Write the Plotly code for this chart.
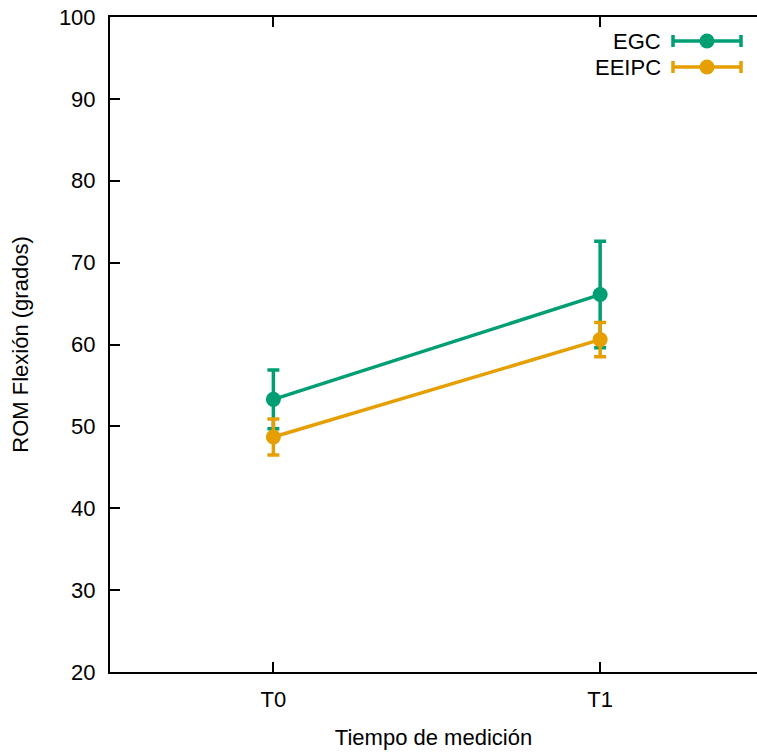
import plotly.graph_objects as go

categories = ["T0", "T1"]
egc_mean = [53.3, 66.1]
egc_err = [3.6, 6.5]
eeipc_mean = [48.7, 60.6]
eeipc_err = [2.2, 2.1]
series_names = ["EGC", "EEIPC"]
colors = ["#009e73", "#e69f00"]
y_ticks = [20, 30, 40, 50, 60, 70, 80, 90, 100]

FONT = "Liberation Sans"
FS = 22
W, H = 757, 754
L, R, T, B = 110, 0, 17, 82

fig = go.Figure()
xs = list(range(len(categories)))
for name, mean, err, col in [(series_names[0], egc_mean, egc_err, colors[0]),
                             (series_names[1], eeipc_mean, eeipc_err, colors[1])]:
    fig.add_trace(go.Scatter(
        x=xs, y=mean, mode="lines+markers", name=name,
        line=dict(color=col, width=3.5),
        marker=dict(color=col, size=15),
        error_y=dict(type="data", array=err, visible=True, color=col, thickness=3.5, width=6),
        showlegend=False, hoverinfo="skip"))

# manual gnuplot-style legend (text left of sample) on hidden pixel axes
pw = W - L - R
ph = H - T - B
leg_y = [41, 67]
for i, (name, col) in enumerate(zip(series_names, colors)):
    yy = H - B - leg_y[i]
    fig.add_trace(go.Scatter(
        x=[707 - L], y=[yy], xaxis="x2", yaxis="y2", mode="markers",
        marker=dict(color=col, size=15),
        error_x=dict(type="constant", value=34, visible=True, color=col, thickness=3.5, width=6),
        showlegend=False, hoverinfo="skip"))
    fig.add_annotation(x=663 - L, y=yy, xref="x2", yref="y2", text=name, showarrow=False,
                       xanchor="right", yanchor="middle", font=dict(family=FONT, size=FS, color="black"))

fig.update_layout(
    width=W, height=H, margin=dict(l=L, r=R, t=T, b=B),
    paper_bgcolor="white", plot_bgcolor="white",
    font=dict(family=FONT, size=FS, color="black"),
    xaxis=dict(range=[-0.5, 1.48], tickvals=xs, ticktext=categories,
               tickfont=dict(family=FONT, size=FS, color="black"), ticklabelstandoff=7,
               showgrid=False, zeroline=False, showline=True, linecolor="black", linewidth=2,
               mirror="ticks", ticks="inside", ticklen=10, tickwidth=2, tickcolor="black",
               title=dict(text="Tiempo de medición", font=dict(family=FONT, size=FS, color="black"), standoff=18)),
    yaxis=dict(range=[20, 100], tickvals=y_ticks,
               tickfont=dict(family=FONT, size=FS, color="black"), ticklabelstandoff=8,
               showgrid=False, zeroline=False, showline=True, linecolor="black", linewidth=2,
               ticks="inside", ticklen=10, tickwidth=2, tickcolor="black",
               title=dict(text="ROM Flexión (grados)", font=dict(family=FONT, size=FS, color="black"), standoff=24)),
    xaxis2=dict(range=[0, pw], overlaying="x", visible=False, fixedrange=True),
    yaxis2=dict(range=[0, ph], overlaying="y", visible=False, fixedrange=True),
)

fig.write_html("out.html")
